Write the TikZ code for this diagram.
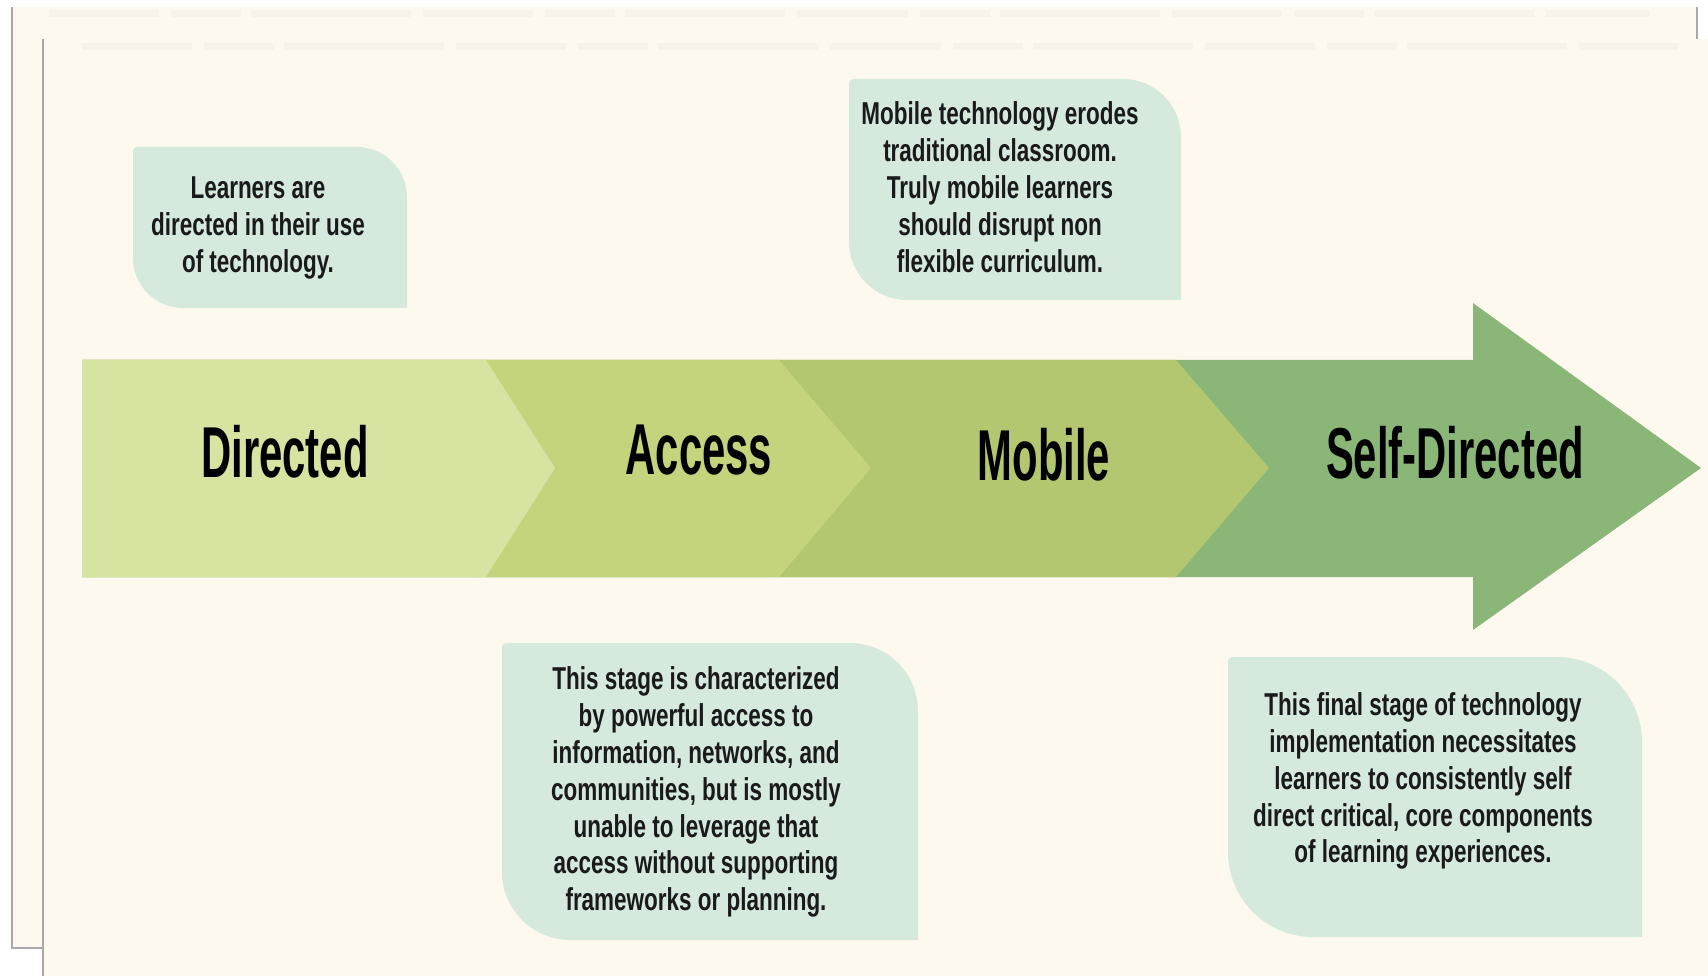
\documentclass[tikz,border=0pt]{standalone}
\usepackage{fontspec}
\setmainfont{Liberation Sans}
\newfontfamily\stagefont[FakeStretch=0.58]{Liberation Sans}
\newfontfamily\notefont[FakeStretch=0.71]{Liberation Sans}

\definecolor{paper}{HTML}{FDF9EE}
\definecolor{shadowgray}{HTML}{A9A9A9}
\definecolor{blurtext}{HTML}{F7F3E8}
\definecolor{directedgreen}{HTML}{D6E3A1}
\definecolor{accessgreen}{HTML}{C3D47C}
\definecolor{mobilegreen}{HTML}{B2C770}
\definecolor{selfgreen}{HTML}{8AB778}
\definecolor{notegreen}{HTML}{D5E9DD}
\definecolor{notetext}{HTML}{1A1A1A}

% leaf shaped note: x1, y1, x2, y2, radius (pixel units, y down)
\newcommand{\leafbox}[5]{%
  \fill[note_fill] (#1,#2+4) .. controls (#1,#2+2) and (#1+2,#2) .. (#1+4,#2)
    -- (#3-#5,#2) .. controls (#3-0.45*#5,#2) and (#3,#2+0.45*#5) .. (#3,#2+#5)
    -- (#3,#4) -- (#1+#5,#4) .. controls (#1+0.45*#5,#4) and (#1,#4-0.45*#5) .. (#1,#4-#5)
    -- cycle;}

\begin{document}
\begin{tikzpicture}[x=0.01cm, y=-0.01cm]
    \tikzstyle{node_stage} = [inner sep=0, text=black, font=\stagefont\bfseries\fontsize{20.5}{24}\selectfont]
    \tikzstyle{node_note} = [inner sep=0, align=center, text=notetext, font=\notefont\bfseries\fontsize{9}{10.5}\selectfont]
    \tikzstyle{note_fill} = [fill=notegreen]
    \tikzstyle{line_shadow} = [draw=shadowgray, line width=0.02cm]
    \tikzstyle{line_blur} = [draw=blurtext, line width=0.07cm, dash pattern=on 1.1cm off 0.12cm on 0.7cm off 0.1cm on 1.6cm off 0.12cm]

    \useasboundingbox (0,0) rectangle (1708,976);
    \fill[white] (0,0) rectangle (1708,976);

    % pages
    \fill[paper] (12,7) rectangle (1697,948);
    \fill[paper] (43,39) rectangle (1708,976);
    \draw[line_shadow] (12,7) -- (12,948) -- (43,948);
    \draw[line_shadow] (1697,7) -- (1697,39);
    \draw[line_shadow] (43,39) -- (43,976);
    \draw[line_blur] (49,14) -- (1650,14);
    \draw[line_blur] (82,47) -- (1678,47);

    % arrow
    \fill[selfgreen] (82,360) -- (1473,360) -- (1473,303) -- (1701,468) -- (1473,630) -- (1473,577) -- (82,577) -- cycle;
    \fill[mobilegreen] (82,360) -- (1176,360) -- (1269,468) -- (1176,577) -- (82,577) -- cycle;
    \fill[accessgreen] (82,360) -- (779,360) -- (871,468) -- (779,577) -- (82,577) -- cycle;
    \fill[directedgreen] (82,360) -- (486,360) -- (555,468) -- (486,577) -- (82,577) -- cycle;

    \node[node_stage] (nDirected) at (285,452) {Directed};
    \node[node_stage] (nAccess) at (699,450) {Access};
    \node[node_stage] (nMobile) at (1044,455) {Mobile};
    \node[node_stage] (nSelf) at (1455,453) {Self-Directed};

    % notes
    \leafbox{133}{147}{407}{308}{50}
    \leafbox{849}{79}{1181}{300}{58}
    \leafbox{502}{643}{918}{940}{68}
    \leafbox{1228}{657}{1642}{937}{85}

    \node[node_note] (tDirected) at (258,228) {Learners are\\directed in their use\\of technology.};
    \node[node_note] (tMobile) at (1000,187) {Mobile technology erodes\\traditional classroom.\\Truly mobile learners\\should disrupt non\\flexible curriculum.};
    \node[node_note] (tAccess) at (696,792) {This stage is characterized\\by powerful access to\\information, networks, and\\communities, but is mostly\\unable to leverage that\\access without supporting\\frameworks or planning.};
    \node[node_note] (tSelf) at (1423,781) {This final stage of technology\\implementation necessitates\\learners to consistently self\\direct critical, core components\\of learning experiences.};

\end{tikzpicture}
\end{document}
